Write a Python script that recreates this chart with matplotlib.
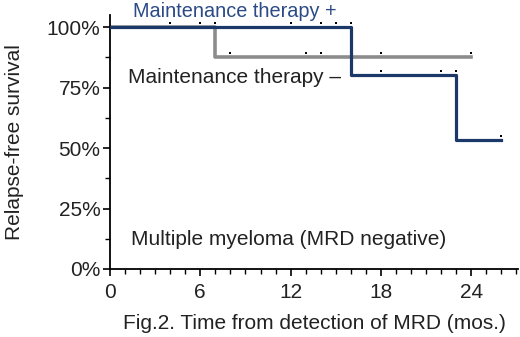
import matplotlib
matplotlib.use("Agg")
import matplotlib.pyplot as plt
import matplotlib.transforms as mtransforms
from matplotlib.ticker import MultipleLocator, FuncFormatter

plt.rcParams['font.family'] = ['Liberation Sans', 'DejaVu Sans']

# Kaplan-Meier step data
plus_t = [0, 16, 23, 26]
plus_s = [100, 80, 53.3, 53.3]
minus_t = [0, 7, 24]
minus_s = [100, 87.5, 87.5]

# censored observations
plus_cens_t = [4, 6, 7, 12, 14, 15, 16, 18, 22, 23, 26]
plus_cens_s = [100, 100, 100, 100, 100, 100, 100, 80, 80, 80, 53.3]
minus_cens_t = [8, 13, 14, 18, 24]
minus_cens_s = [87.5, 87.5, 87.5, 87.5, 87.5]

x_ticks = [0, 6, 12, 18, 24]
y_ticks = [0, 25, 50, 75, 100]

blue = '#1c3868'
grey = '#8c8c8c'
txt = '#222222'
fs = 15

fig = plt.figure(figsize=(5.2, 3.37), dpi=100)
ax = fig.add_axes([0.2115, 0.2018, 0.7845, 0.7537])

ax.step(minus_t, minus_s, where='post', color=grey, lw=2.6, zorder=2)
ax.step(plus_t, plus_s, where='post', color=blue, lw=2.3, zorder=3)

off = mtransforms.offset_copy(ax.transData, fig=fig, x=0, y=4.5, units='dots')
ax.plot(plus_cens_t, plus_cens_s, 's', color='black', ms=1.8, mew=0, transform=off, clip_on=False, zorder=4)
ax.plot(minus_cens_t, minus_cens_s, 's', color='black', ms=1.8, mew=0, transform=off, clip_on=False, zorder=4)

ax.set_xlim(0, 27.1)
ax.set_ylim(0, 105)
ax.set_xticks(x_ticks)
ax.set_yticks(y_ticks)
ax.xaxis.set_minor_locator(MultipleLocator(1))
ax.yaxis.set_minor_locator(MultipleLocator(12.5))
ax.yaxis.set_major_formatter(FuncFormatter(lambda v, p: f"{int(v)}%"))

for s in ['top', 'right']:
    ax.spines[s].set_visible(False)
for s in ['left', 'bottom']:
    ax.spines[s].set_linewidth(1.3)
    ax.spines[s].set_color('black')

ax.tick_params(axis='x', which='major', direction='out', length=5, width=1.2,
               labelsize=fs, labelcolor=txt, pad=5)
ax.tick_params(axis='y', which='major', direction='out', length=5, width=1.2,
               labelsize=fs, labelcolor=txt, pad=2)
ax.tick_params(axis='both', which='minor', direction='out', length=3.5, width=1.0)

ax.set_xlabel("Fig.2. Time from detection of MRD (mos.)", fontsize=fs, color=txt, labelpad=9)
ax.set_ylabel("Relapse-free survival", fontsize=fs, color=txt, labelpad=16)

ax.text(1.5, 106.6, "Maintenance therapy +", fontsize=14.3, color='#2b4a86', va='center', ha='left', clip_on=False)
ax.text(1.2, 79, "Maintenance therapy \u2013", fontsize=fs, color=txt, va='center', ha='left')
ax.text(1.4, 12, "Multiple myeloma (MRD negative)", fontsize=fs, color=txt, va='center', ha='left')

fig.savefig("out.png", dpi=100)
